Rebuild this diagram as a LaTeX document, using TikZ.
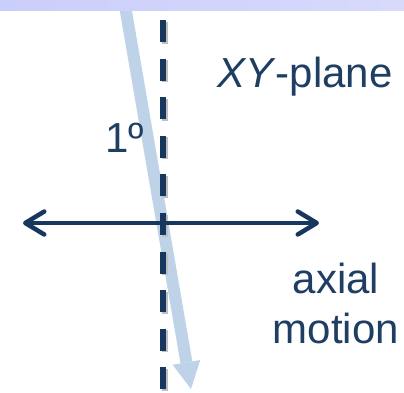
\documentclass[tikz,border=0pt]{standalone}
\usepackage{fontspec}
\setmainfont{Liberation Sans}
\usetikzlibrary{arrows.meta,positioning}
\definecolor{navy}{RGB}{23,55,94}
\definecolor{textblue}{RGB}{30,62,98}
\definecolor{beamblue}{RGB}{190,210,232}
\definecolor{band}{RGB}{202,206,250}

\begin{document}
\begin{tikzpicture}[x=1pt,y=-1pt,
  txt/.style={text=textblue,font=\fontsize{42}{47}\selectfont,inner sep=0pt},
  zaxis/.style={line width=6pt,dash pattern=on 22pt off 16.6pt},
  sweep/.style={navy,line width=4.5pt,{Straight Barb[length=19pt,width=23pt,round]}-{Straight Barb[length=19pt,width=23pt,round]}}]
\useasboundingbox (0,0) rectangle (404,392);
\coordinate (beamtop) at (124,0);
\coordinate (beamend) at (191,389);
\coordinate (axtop) at (163,20);
\coordinate (axbot) at (163,389);
\coordinate (left) at (23,223);
\coordinate (right) at (319,223);
% tilted beam
\draw[beamblue,line width=12pt,-{Triangle[width=28pt,length=27pt,line width=0pt]}] (beamtop) -- (beamend);
\fill[left color=band,right color=band!75!white] (0,0) rectangle (404,10);
% dashed axis with a little shadow
\draw[zaxis,black!25] ([shift={(1.5,1.5)}]axtop) -- ([shift={(1.5,1.5)}]axbot);
\draw[zaxis,navy] (axtop) -- (axbot);
\draw[sweep] (left) -- (right);
\node[txt,anchor=base west] (plane) at (217,87) {\textit{XY}-plane};
\node[txt,anchor=base west] (deg) at (105,152) {1º};
\node[txt,anchor=base] (axial) at (336,293) {axial};
\node[txt,anchor=base] (motion) at (336,343) {motion};
\end{tikzpicture}
\end{document}
